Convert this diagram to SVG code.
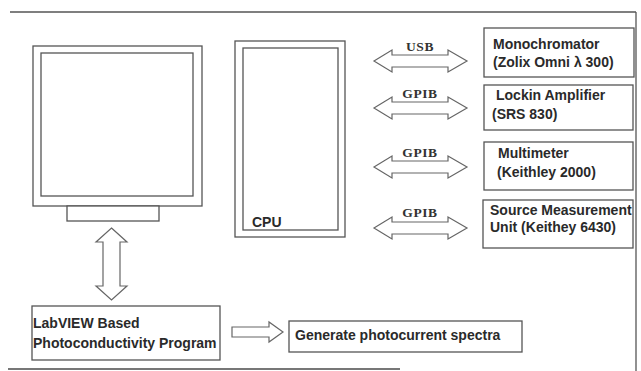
<svg xmlns="http://www.w3.org/2000/svg" width="641" height="371" viewBox="0 0 641 371">
<style>
.ln{fill:none;stroke:#555;stroke-width:1.3}
.bx{fill:#fff;stroke:#555;stroke-width:1.3}
.ar{fill:#fff;stroke:#666;stroke-width:1.2;stroke-linejoin:miter}
.t{font-family:"Liberation Sans",Arial,sans-serif;font-weight:bold;font-size:14px;fill:#2a2a2a}
.s{font-family:"Liberation Serif","Times New Roman",serif;font-weight:bold;font-size:13.5px;fill:#333;letter-spacing:0.6px;text-anchor:middle}
</style>
<rect width="641" height="371" fill="#fff"/>
<g id="frame">
<line class="ln" x1="10" y1="12" x2="636" y2="12"/>
<line class="ln" x1="636" y1="12" x2="636" y2="371"/>
<line x1="8" y1="369" x2="400" y2="369" stroke="#777" stroke-width="2"/>
</g>
<g id="monitor">
<rect class="bx" x="33" y="46" width="169" height="160"/>
<rect class="bx" x="41" y="53" width="152" height="143"/>
<rect class="bx" x="67" y="206" width="92" height="15"/>
</g>
<g id="cpu">
<rect class="bx" x="235" y="41" width="110" height="196"/>
<rect class="bx" x="243" y="48" width="95" height="182"/>
<text class="t" x="252" y="227" font-size="13">CPU</text>
</g>
<g id="mono">
<rect class="bx" x="484" y="28" width="150" height="49"/>
<text class="t" x="493" y="49">Monochromator</text>
<text class="t" x="493" y="67">(Zolix Omni λ 300)</text>
</g>
<g id="lockin">
<rect class="bx" x="484" y="85" width="149" height="45"/>
<text class="t" x="496" y="100">Lockin Amplifier</text>
<text class="t" x="492" y="119">(SRS 830)</text>
</g>
<g id="multimeter">
<rect class="bx" x="484" y="142" width="149" height="48"/>
<text class="t" x="498" y="158">Multimeter</text>
<text class="t" x="497" y="177">(Keithley 2000)</text>
</g>
<g id="smu">
<rect class="bx" x="483" y="200" width="150" height="48"/>
<text class="t" x="490" y="215">Source Measurement</text>
<text class="t" x="490" y="232">Unit (Keithey 6430)</text>
</g>
<g id="labview">
<rect class="bx" x="32" y="306" width="188" height="54"/>
<text class="t" x="33" y="328">LabVIEW Based</text>
<text class="t" x="33" y="348">Photoconductivity Program</text>
</g>
<g id="generate">
<rect class="bx" x="289" y="321" width="233" height="31"/>
<text class="t" x="295" y="340" font-size="15">Generate photocurrent spectra</text>
</g>
<g id="connectors">
<polygon class="ar" points="374,61 392,50 392,55 448,55 448,50 467,61 448,72 448,67 392,67 392,72"/>
<polygon class="ar" points="374,108 392,97 392,102 448,102 448,97 467,108 448,119 448,114 392,114 392,119"/>
<polygon class="ar" points="374,167 392,156 392,161 448,161 448,156 467,167 448,178 448,173 392,173 392,178"/>
<polygon class="ar" points="374,228 392,217 392,222 448,222 448,217 467,228 448,239 448,234 392,234 392,239"/>
<polygon class="ar" points="111.5,228 127,242 120,242 120,286 127,286 111.5,300 96,286 103,286 103,242 96,242"/>
<polygon class="ar" points="232,327 269,327 269,322 283,332 269,342 269,337 232,337"/>
<text class="s" x="420" y="51">USB</text>
<text class="s" x="420" y="98">GPIB</text>
<text class="s" x="420" y="157">GPIB</text>
<text class="s" x="420" y="217">GPIB</text>
</g>
</svg>
